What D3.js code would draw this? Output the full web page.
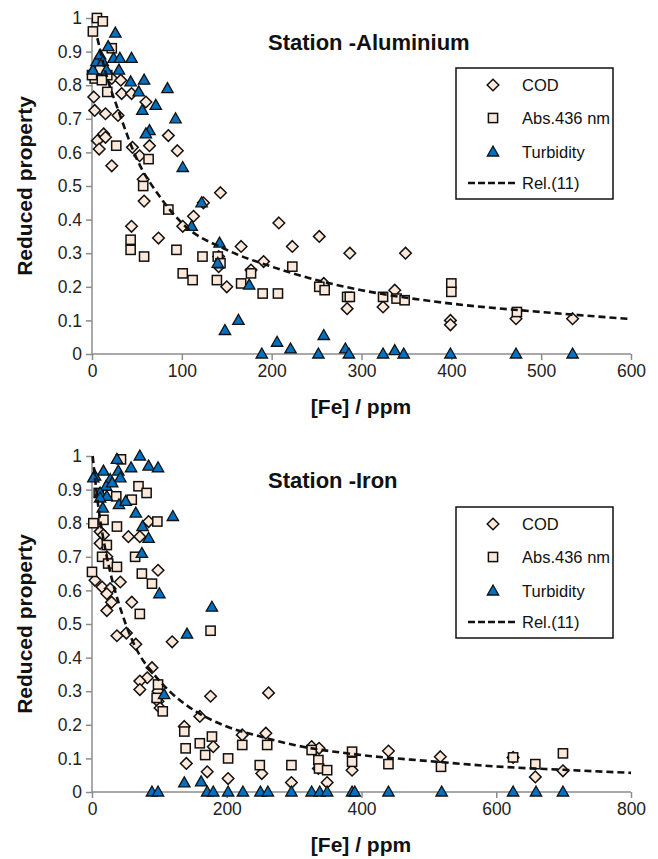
<!DOCTYPE html>
<html>
<head>
<meta charset="utf-8">
<script src="https://cdn.jsdelivr.net/npm/d3@7"></script>
<style>
  body { margin: 0; background: #fff; }
  svg { display: block; font-family: "Liberation Sans", Arial, sans-serif; }
</style>
</head>
<body>
<div id="chart"></div>
<script>
// series names, same for both panels
const seriesNames = ['COD', 'Abs.436 nm', 'Turbidity', 'Rel.(11)'];
const yTicks = [0, 0.1, 0.2, 0.3, 0.4, 0.5, 0.6, 0.7, 0.8, 0.9, 1];

// --- Station -Aluminium ---  [Fe] ppm, reduced property
const alCOD = [[2,0.765],[3,0.725],[15,0.715],[29,0.71],[6,0.635],[8,0.61],[13,0.655],[15,0.645],[22,0.56],
  [22,0.82],[32,0.815],[33,0.775],[44,0.775],[45,0.615],[53,0.59],[60,0.75],[64,0.62],[57,0.52],[85,0.65],[95,0.605],
  [44,0.38],[58,0.455],[74,0.345],[101,0.38],[113,0.41],[124,0.45],[143,0.48],[141,0.29],[141,0.26],[150,0.2],
  [166,0.32],[177,0.25],[191,0.275],[208,0.39],[223,0.32],[253,0.35],[258,0.21],[287,0.30],[284,0.135],
  [349,0.30],[337,0.19],[324,0.14],[399,0.10],[399,0.087],[472,0.105],[535,0.105]];
const alAbs = [[5.5,1.0],[12,0.99],[1,0.96],[22,0.91],[9,0.845],[17,0.83],[17,0.78],[3,0.82],[0,0.83],[11,0.815],
  [27,0.62],[63,0.58],[57,0.50],[85,0.43],[43,0.34],[43,0.31],[58,0.29],[94,0.31],[101,0.24],[112,0.22],
  [123,0.29],[140,0.29],[143,0.27],[139,0.22],[166,0.21],[177,0.24],[190,0.18],[207,0.18],[223,0.26],
  [253,0.20],[259,0.19],[284,0.17],[287,0.17],[324,0.17],[339,0.165],[348,0.16],[400,0.21],[400,0.185],[473,0.125]];
const alTurb = [[26,0.955],[1,0.845],[5,0.87],[9,0.89],[18,0.915],[12,0.87],[24,0.88],[31,0.88],[44,0.88],
  [16,0.845],[30,0.845],[43,0.81],[58,0.815],[52,0.78],[84,0.79],[71,0.74],[56,0.725],[93,0.70],[64,0.665],
  [60,0.655],[101,0.555],[122,0.45],[111,0.38],[142,0.33],[140,0.27],[175,0.205],[148,0.07],[163,0.10],
  [206,0.035],[221,0.015],[189,0],[252,0],[258,0.055],[282,0.015],[286,0],[324,0],[337,0.01],[347,0],
  [399,0],[472,0],[535,0]];
const alRelX = [6, 15, 30, 50, 75, 100, 150, 200, 250, 300, 400, 500, 600];
const alRelY = [0.94, 0.84, 0.72, 0.58, 0.47, 0.39, 0.31, 0.26, 0.22, 0.19, 0.15, 0.125, 0.104];
const alXTicks = [0, 100, 200, 300, 400, 500, 600];

// --- Station -Iron ---
const feCOD = [[12,0.775],[17,0.765],[54,0.76],[71,0.76],[84,0.805],[12,0.74],[22,0.70],[98,0.66],[4.5,0.63],
  [15,0.61],[27,0.605],[42,0.625],[22,0.59],[29,0.565],[22,0.54],[59,0.565],[37,0.465],[51,0.473],[65,0.44],
  [119,0.447],[89,0.37],[82,0.34],[71,0.33],[71,0.305],[98,0.30],[98,0.27],[101,0.25],[176,0.285],[160,0.225],
  [137,0.195],[180,0.135],[140,0.085],[171,0.06],[202,0.04],[223,0.17],[262,0.295],[258,0.175],[252,0.055],
  [296,0.028],[326,0.135],[337,0.13],[336,0.07],[349,0.028],[386,0.065],[440,0.122],[517,0.105],[625,0.103],
  [658,0.045],[699,0.063]];
const feAbs = [[43,0.99],[69,0.91],[81,0.89],[36,0.88],[59,0.87],[10,0.89],[2,0.80],[17,0.81],[37,0.79],[97,0.805],
  [22,0.735],[15,0.70],[24,0.68],[37,0.67],[64,0.70],[0,0.655],[74,0.65],[89,0.62],[71,0.53],[176,0.48],
  [98,0.32],[96,0.28],[105,0.24],[137,0.18],[139,0.13],[160,0.145],[178,0.165],[168,0.11],[202,0.10],[223,0.14],
  [249,0.08],[260,0.14],[296,0.08],[326,0.125],[336,0.095],[337,0.07],[349,0.065],[386,0.12],[386,0.09],
  [440,0.083],[518,0.075],[625,0.103],[658,0.083],[699,0.115]];
const feTurb = [[4.5,0.94],[17,0.955],[37,0.99],[71,1.0],[84,0.97],[98,0.965],[58,0.965],[39,0.955],[2,0.935],
  [27,0.93],[42,0.935],[21,0.91],[30,0.92],[12,0.89],[22,0.88],[12,0.875],[16,0.845],[40,0.855],[50,0.865],
  [65,0.83],[75,0.79],[84,0.755],[74,0.71],[120,0.82],[100,0.59],[178,0.55],[141,0.47],[107,0.29],[137,0.027],
  [162,0.03],[89,0],[98,0],[171,0],[180,0],[202,0],[224,0],[250,0],[261,0],[296,0],[326,0],[338,0],[349,0],
  [386,0],[390,0],[440,0],[519,0],[625,0],[659,0],[699,0]];
const feRelX = [1, 10, 20, 30, 40, 50, 70, 90, 115, 150, 200, 250, 300, 400, 500, 600, 700, 800];
const feRelY = [1.0, 0.84, 0.72, 0.63, 0.56, 0.50, 0.41, 0.355, 0.30, 0.245, 0.195, 0.165, 0.14, 0.11, 0.092, 0.076, 0.066, 0.057];
const feXTicks = [0, 200, 400, 600, 800];

const W = 658, H = 859;
const svg = d3.select('#chart').append('svg').attr('width', W).attr('height', H);

const peach = '#fde9d9', blue = '#0070c0', axisGrey = '#8c8c8c';

function marker(g, type, x, y) {
  if (type === 'diamond') {
    g.append('path').attr('d', `M${x},${y-5.8}L${x+5.8},${y}L${x},${y+5.8}L${x-5.8},${y}Z`)
      .attr('fill', peach).attr('stroke', '#111').attr('stroke-width', 1.5);
  } else if (type === 'square') {
    g.append('rect').attr('x', x - 4.6).attr('y', y - 4.6).attr('width', 9.2).attr('height', 9.2)
      .attr('fill', peach).attr('stroke', '#111').attr('stroke-width', 1.5);
  } else {
    g.append('path').attr('d', `M${x},${y-6}L${x+5.7},${y+4}L${x-5.7},${y+4}Z`)
      .attr('fill', blue).attr('stroke', '#111').attr('stroke-width', 1.3);
  }
}

function panel(p) {
  const x = d3.scaleLinear().domain([0, p.xMax]).range([92, 631]);
  const y = d3.scaleLinear().domain([0, 1]).range([p.top + 336, p.top]);
  const g = svg.append('g');

  // axes
  const ya = g.append('g').attr('transform', 'translate(92,0)')
    .call(d3.axisLeft(y).tickValues(yTicks).tickSize(6).tickPadding(4).tickFormat(d3.format('~g')));
  const xa = g.append('g').attr('transform', `translate(0,${p.top + 336})`)
    .call(d3.axisBottom(x).tickValues(p.xTicks).tickSize(6).tickPadding(5));
  [ya, xa].forEach(a => {
    a.select('.domain').attr('stroke', axisGrey).attr('stroke-width', 1.5);
    a.selectAll('.tick line').attr('stroke', axisGrey).attr('stroke-width', 1.5);
    a.selectAll('.tick text').attr('fill', '#222').style('font-size', '17.5px');
  });
  ya.select('.domain').attr('d', `M0,${p.top + 336}V${p.top}`);
  xa.select('.domain').attr('d', `M92,0H631`);

  // markers: COD, Abs, Turbidity
  const mg = g.append('g');
  p.cod.forEach(d => marker(mg, 'diamond', x(d[0]), y(d[1])));
  p.abs.forEach(d => marker(mg, 'square', x(d[0]), y(d[1])));
  p.turb.forEach(d => marker(mg, 'triangle', x(d[0]), y(d[1])));

  // Rel.(11)
  const rel = p.relX.map((v, i) => [v, p.relY[i]]);
  g.append('path').datum(rel)
    .attr('d', d3.line().x(d => x(d[0])).y(d => y(d[1])).curve(d3.curveMonotoneX))
    .attr('fill', 'none').attr('stroke', '#111').attr('stroke-width', 2.6)
    .attr('stroke-dasharray', '7,4');

  // title & axis labels
  g.append('text').attr('x', 268).attr('y', p.top + 32).text(p.title)
    .style('font-size', '22px').style('font-weight', 'bold').attr('fill', '#111');
  g.append('text').attr('x', 361).attr('y', p.top + 396).attr('text-anchor', 'middle')
    .text('[Fe] / ppm').style('font-size', '21px').style('font-weight', 'bold').attr('fill', '#111');
  g.append('text').attr('transform', `translate(32,${p.top + 168}) rotate(-90)`).attr('text-anchor', 'middle')
    .text('Reduced property').style('font-size', '21px').style('font-weight', 'bold').attr('fill', '#111');

  // legend
  const ly = p.legendTop;
  const lg = g.append('g');
  lg.append('rect').attr('x', 456).attr('y', ly).attr('width', 157).attr('height', 131)
    .attr('fill', '#fff').attr('stroke', '#111').attr('stroke-width', 1.5);
  const rows = [17, 50, 84, 115];
  marker(lg, 'diamond', 493, ly + rows[0]);
  marker(lg, 'square', 493, ly + rows[1]);
  marker(lg, 'triangle', 493, ly + rows[2]);
  lg.append('line').attr('x1', 468).attr('x2', 518).attr('y1', ly + rows[3]).attr('y2', ly + rows[3])
    .attr('stroke', '#111').attr('stroke-width', 2.6).attr('stroke-dasharray', '7,3');
  seriesNames.forEach((s, i) => {
    lg.append('text').attr('x', 522).attr('y', ly + rows[i]).attr('dy', '0.35em').text(s)
      .style('font-size', '16.5px').attr('fill', '#111');
  });
}

panel({ title: 'Station -Aluminium', top: 18, xMax: 600, xTicks: alXTicks, legendTop: 68,
  cod: alCOD, abs: alAbs, turb: alTurb, relX: alRelX, relY: alRelY });
panel({ title: 'Station -Iron', top: 456, xMax: 800, xTicks: feXTicks, legendTop: 507,
  cod: feCOD, abs: feAbs, turb: feTurb, relX: feRelX, relY: feRelY });
</script>
</body>
</html>
